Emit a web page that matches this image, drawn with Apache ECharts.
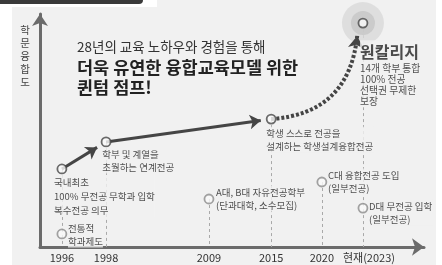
<!DOCTYPE html>
<html>
<head>
<meta charset="utf-8">
<style>
  html, body { margin: 0; padding: 0; background: #fff; }
  #main { width: 442px; height: 265px; }
</style>
<script src="https://cdn.jsdelivr.net/npm/echarts@6.0.0/dist/echarts.min.js"></script>
</head>
<body>
<div id="main"></div>
<script>
var FONT = '"Noto Sans CJK KR", "Noto Sans", sans-serif';

// timeline ticks (schematic axis, 0..100)
var tickLabels = ['1996', '1998', '2009', '2015', '2020', '현재(2023)'];
var tickPos = [5.7, 17.2, 44.0, 60.2, 73.4, 84.1];

// milestones: which tick, how "convergent" (0..100), text
var eventTick = [0, 0, 1, 2, 3, 4, 5, 5];
var eventLevel = [5.6, 33.5, 45.1, 20.6, 54.9, 27.9, 16.7, 96.1];
var eventText = [
  '전통적\n학과제도',
  '국내최초\n100% 무전공 무학과 입학\n복수전공 의무',
  '학부 및 계열을\n초월하는 연계전공',
  'A대, B대 자유전공학부\n(단과대학, 소수모집)',
  '학생 스스로 전공을\n설계하는 학생설계융합전공',
  'C대 융합전공 도입\n(일부전공)',
  'D대 무전공 입학\n(일부전공)',
  '원칼리지'
];
var oneCollegeNotes = ['14개 학부 통합', '100% 전공', '선택권 무제한', '보장'];

// main path through milestones, then the dotted "jump"
var solidPath = [1, 2, 4];
var jumpFrom = 4;
var jumpEnd = [82.6, 90.6];
var goal = 7;

// label placement (px, from symbol box top-left)
var labelOffset = [[11.5, -7], [-2.5, 11.5], [1.5, 11], [12.5, -8], [0.5, 13], [11.5, -8], [11.5, -3], [2.5, 22.5]];
var labelLineHeight = [13, 14, 13, 13, 13, 13, 13, 11];

function pt(i) { return [tickPos[eventTick[i]], eventLevel[i]]; }

var chart = echarts.init(document.getElementById('main'));

var base = {
  animation: false,
  textStyle: { fontFamily: FONT },
  grid: { left: 40, right: 18, top: 14, bottom: 18, outerBoundsMode: 'none' },
  title: {
    left: 72, top: 31,
    text: '{a|28년의 교육 노하우와 경험을 통해}\n{b|더욱 유연한 융합교육모델 위한}\n{b|퀸텀 점프!}',
    textStyle: {
      fontFamily: FONT,
      rich: {
        a: { fontFamily: FONT, fontSize: 13.5, fontWeight: 'normal', color: '#333', lineHeight: 21 },
        b: { fontFamily: FONT, fontSize: 17.5, fontWeight: 'bold', color: '#222', lineHeight: 20 }
      }
    }
  },
  graphic: [
    { type: 'rect', z: -10, silent: true, shape: { x: 12, y: 0, width: 424, height: 265 }, style: { fill: '#f1f1f1' } },
    { type: 'rect', z: -9, silent: true, shape: { x: 0, y: 0, width: 157, height: 7 }, style: { fill: '#ffffff' } },
    { type: 'rect', z: -8, silent: true, shape: { x: 0, y: 0, width: 143, height: 4, r: [0, 0, 4, 0] }, style: { fill: '#3a3a3a' } },
    { type: 'text', z: 10, silent: true, x: 25, y: 24,
      style: { text: '학\n문\n융\n합\n도', font: '10.5px ' + FONT, fill: '#444', align: 'center', verticalAlign: 'top', lineHeight: 12.8 } }
  ],
  xAxis: {
    type: 'value', min: 0, max: 100,
    axisLine: { symbol: ['none', 'arrow'], symbolSize: [13, 12], lineStyle: { color: '#6b6b6b', width: 3 } },
    axisTick: { show: false },
    splitLine: { show: false },
    axisLabel: {
      customValues: tickPos,
      margin: 5,
      fontSize: 11, color: '#333', fontFamily: FONT,
      formatter: function (v) {
        var best = 0;
        for (var i = 1; i < tickPos.length; i++) {
          if (Math.abs(tickPos[i] - v) < Math.abs(tickPos[best] - v)) best = i;
        }
        return best === tickPos.length - 1 ? '{r|' + tickLabels[best] + '}' : tickLabels[best];
      },
      rich: { r: { fontSize: 11, color: '#333', fontFamily: FONT, padding: [0, 0, 0, 12] } }
    }
  },
  yAxis: {
    type: 'value', min: 0, max: 100,
    axisLine: { symbol: ['none', 'arrow'], symbolSize: [12, 12], lineStyle: { color: '#6b6b6b', width: 3 } },
    axisTick: { show: false },
    axisLabel: { show: false },
    splitLine: { show: false }
  }
};
chart.setOption(base);

// shorten solid segments so arrow tips stop at the circles
var arrowLen = 11, gap = 5;
var solidSegs = [];
for (var i = 0; i < solidPath.length - 1; i++) {
  var a = pt(solidPath[i]), b = pt(solidPath[i + 1]);
  var pa = chart.convertToPixel({ gridIndex: 0 }, a);
  var pb = chart.convertToPixel({ gridIndex: 0 }, b);
  var dx = pb[0] - pa[0], dy = pb[1] - pa[1];
  var k = (gap + arrowLen / 2) / Math.sqrt(dx * dx + dy * dy);
  var end = chart.convertFromPixel({ gridIndex: 0 }, [pb[0] - dx * k, pb[1] - dy * k]);
  solidSegs.push({ coords: [a, end] });
}

// vertical guides, one per tick, from the highest milestone down
var guides = tickPos.map(function (x, t) {
  var top = 0;
  eventTick.forEach(function (et, i) { if (et === t) top = Math.max(top, eventLevel[i]); });
  return { coords: [[x, top], [x, 0]] };
});

var onPath = [1, 2, 4, 7];
var points = eventText.map(function (txt, i) {
  var dark = onPath.indexOf(i) >= 0;
  var item = {
    value: pt(i),
    itemStyle: { color: '#fafafa', borderColor: dark ? '#474747' : '#8c8c8c', borderWidth: 1.8 },
    label: {
      show: true,
      position: labelOffset[i],
      align: 'left', verticalAlign: 'top',
      formatter: txt,
      fontSize: 9.5, lineHeight: labelLineHeight[i],
      color: '#1f1f1f', fontFamily: FONT,
      backgroundColor: '#f1f1f1'
    }
  };
  if (i === goal) {
    item.label.formatter = '{t|' + txt + '}\n' + oneCollegeNotes.map(function (s) { return '{s|' + s + '}'; }).join('\n');
    item.label.rich = {
      t: { fontSize: 16, fontWeight: 'bold', lineHeight: 23, color: '#222', fontFamily: FONT },
      s: { fontSize: 9.8, lineHeight: 11, color: '#1f1f1f', fontFamily: FONT }
    };
  }
  return item;
});

chart.setOption({
  series: [
    {
      name: 'guides', type: 'lines', coordinateSystem: 'cartesian2d', z: 1, silent: true,
      lineStyle: { color: '#a9a9a9', width: 1, type: [3, 3], opacity: 1 },
      data: guides
    },
    {
      name: 'glow', type: 'scatter', z: 2, silent: true,
      data: [
        { value: pt(goal), symbolSize: 42, itemStyle: { color: '#dadada' } },
        { value: pt(goal), symbolSize: 24, itemStyle: { color: '#c6c6c6' } }
      ]
    },
    {
      name: 'path', type: 'lines', coordinateSystem: 'cartesian2d', z: 3, silent: true,
      symbol: ['none', 'arrow'], symbolSize: [9, arrowLen],
      lineStyle: { color: '#454545', width: 3, opacity: 1, curveness: 0 },
      data: solidSegs
    },
    {
      name: 'jump', type: 'lines', coordinateSystem: 'cartesian2d', z: 3, silent: true,
      symbol: ['none', 'arrow'], symbolSize: [10, 12],
      lineStyle: { color: '#454545', width: 4, type: [3, 2], cap: 'butt', opacity: 1, curveness: -0.42 },
      data: [{ coords: [pt(jumpFrom), jumpEnd] }]
    },
    {
      name: 'milestones', type: 'scatter', z: 4, symbolSize: 9,
      emphasis: { disabled: true },
      data: points
    }
  ]
});
</script>
</body>
</html>
